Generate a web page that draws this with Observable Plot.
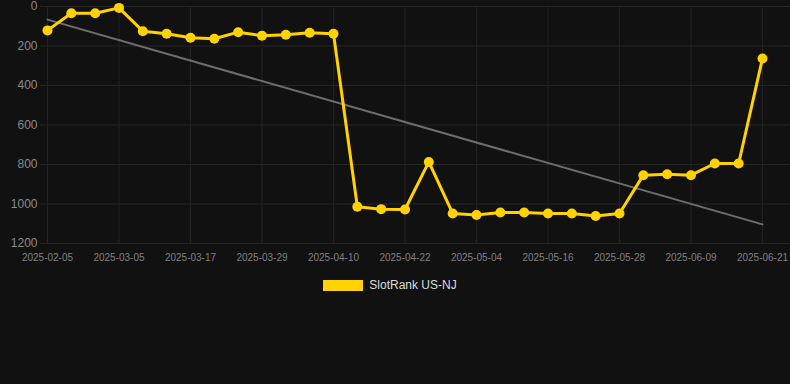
<!DOCTYPE html>
<html>
<head>
<meta charset="utf-8">
<script src="https://cdn.jsdelivr.net/npm/d3@7"></script>
<script src="https://cdn.jsdelivr.net/npm/@observablehq/plot@0.6"></script>
<style>
  html, body { margin: 0; padding: 0; background: #111111; }
  #chart { width: 790px; }
  .legend { display: flex; align-items: center; justify-content: center; height: 30px; padding-right: 10px; font-family: "Liberation Sans", Arial, sans-serif; font-size: 12px; color: #dddddd; }
  .legend .sw { width: 40px; height: 11px; background: #FFD200; margin-right: 6px; }
</style>
</head>
<body>
<div id="chart"></div>
<div class="legend"><div class="sw"></div><span>SlotRank US-NJ</span></div>
<script>
const dates = ["2025-02-05","2025-02-14","2025-02-23","2025-03-05","2025-03-09","2025-03-13","2025-03-17","2025-03-21","2025-03-25","2025-03-29","2025-04-02","2025-04-06","2025-04-10","2025-04-14","2025-04-18","2025-04-22","2025-04-26","2025-04-30","2025-05-04","2025-05-08","2025-05-12","2025-05-16","2025-05-20","2025-05-24","2025-05-28","2025-06-01","2025-06-05","2025-06-09","2025-06-13","2025-06-17","2025-06-21"];
const ranks = [121,34,34,7,125,138,158,163,130,148,143,133,138,1014,1026,1028,787,1048,1056,1043,1043,1048,1048,1061,1048,854,849,854,795,795,263];
const yTicks = [0,200,400,600,800,1000,1200];
const xTickIdx = [0,3,6,9,12,15,18,21,24,27,30];

const data = ranks.map((v, i) => ({i, date: dates[i], rank: v}));

const chart = Plot.plot({
  width: 790,
  height: 270,
  marginLeft: 40,
  marginRight: 0,
  marginTop: 6,
  marginBottom: 27,
  insetLeft: 7,
  insetRight: 28,
  style: {background: "#111111", fontFamily: "'Liberation Sans', Arial, sans-serif"},
  x: {type: "linear", domain: [0, 30]},
  y: {domain: [0, 1200], reverse: true},
  marks: [
    Plot.gridY(yTicks, {stroke: "#262626", strokeOpacity: 1}),
    Plot.gridX(xTickIdx, {stroke: "#222222", strokeOpacity: 1}),
    Plot.axisY(yTicks, {tickSize: 0, tickPadding: 3, fontSize: 12, fill: "#8a8a8a", label: null, tickFormat: d => String(d)}),
    Plot.axisX(xTickIdx, {tickSize: 0, tickPadding: 10, fontSize: 10, fill: "#808080", label: null, tickFormat: d => dates[d]}),
    Plot.linearRegressionY(data, {x: "i", y: "rank", ci: 0, stroke: "#6e6e6e", strokeWidth: 2}),
    Plot.line(data, {x: "i", y: "rank", stroke: "#FFD200", strokeWidth: 3}),
    Plot.dot(data, {x: "i", y: "rank", r: 5, fill: "#FFD200", stroke: "none"})
  ]
});
document.getElementById("chart").appendChild(chart);
</script>
</body>
</html>
